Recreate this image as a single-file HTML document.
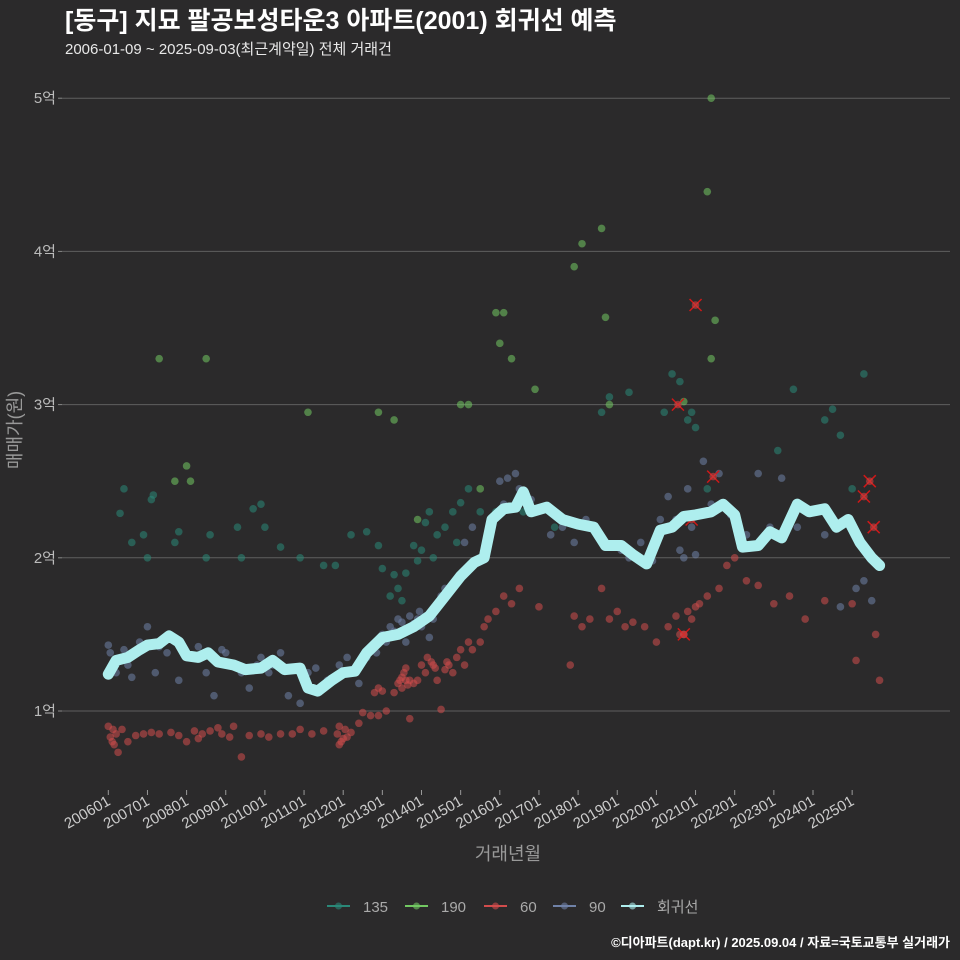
<!DOCTYPE html>
<html><head><meta charset="utf-8">
<style>
html,body{margin:0;padding:0;background:#2b2a2b;}
svg{display:block;font-family:"Liberation Sans","Noto Sans CJK KR",sans-serif;}
</style></head>
<body>
<svg id="chart" width="960" height="960" xmlns="http://www.w3.org/2000/svg">
<rect width="960" height="960" fill="#2b2a2b"/>
<text x="65" y="29" fill="#ffffff" font-size="25" font-weight="bold">[동구] 지묘 팔공보성타운3 아파트(2001) 회귀선 예측</text>
<text x="65" y="54" fill="#e8e8e8" font-size="15">2006-01-09 ~ 2025-09-03(최근계약일) 전체 거래건</text>
<g id="grid"></g>
<g id="points"></g>
<g id="reg"></g>
<g id="xaxis"></g>
<text x="508" y="860" fill="#999" font-size="18" text-anchor="middle">거래년월</text>
<text transform="translate(21,430) rotate(-90)" fill="#999" font-size="18" text-anchor="middle">매매가(원)</text>
<g id="legend"></g>
<text x="950" y="947" fill="#ffffff" font-size="13" font-weight="bold" text-anchor="end">©디아파트(dapt.kr) / 2025.09.04 / 자료=국토교통부 실거래가</text>
</svg>
<script>
const yTicks=[1,2,3,4,5];
const yTickLabels=["1억","2억","3억","4억","5억"];
const xTickYears=[2006,2007,2008,2009,2010,2011,2012,2013,2014,2015,2016,2017,2018,2019,2020,2021,2022,2023,2024,2025];
const xTickLabels=["200601","200701","200801","200901","201001","201101","201201","201301","201401","201501","201601","201701","201801","201901","202001","202101","202201","202301","202401","202501"];
const seriesNames=["135","190","60","90","회귀선"];
const seriesColors=["#2a8878","#72c862","#d24c4c","#7082a8","#aeeeee"];
// [year, 억]
const s135=[[2006.3,2.29],[2006.4,2.45],[2006.6,2.1],[2006.9,2.15],[2007.1,2.38],[2007.15,2.41],[2007.0,2.0],[2007.7,2.1],[2007.8,2.17],[2008.5,2.0],[2008.6,2.15],[2009.3,2.2],[2009.4,2.0],[2009.7,2.32],[2009.9,2.35],[2010.0,2.2],[2010.4,2.07],[2010.9,2.0],[2011.5,1.95],[2011.8,1.95],[2012.2,2.15],[2012.6,2.17],[2012.9,2.08],[2013.0,1.93],[2013.3,1.89],[2013.5,1.72],[2013.8,2.08],[2013.9,1.98],[2014.0,2.05],[2014.1,2.23],[2014.2,2.3],[2014.4,2.15],[2014.6,2.2],[2014.8,2.3],[2015.0,2.36],[2015.2,2.45],[2015.5,2.3],[2015.9,2.3],[2016.6,2.3],[2017.4,2.2],[2018.6,2.95],[2018.8,3.05],[2019.3,3.08],[2020.2,2.95],[2020.4,3.2],[2020.6,3.15],[2020.8,2.9],[2020.9,2.95],[2021.0,2.85],[2021.3,2.45],[2023.1,2.7],[2023.5,3.1],[2024.3,2.9],[2024.5,2.97],[2024.7,2.8],[2025.3,3.2],[2025.0,2.45],[2013.4,1.8],[2013.6,1.9],[2014.3,2.0],[2013.2,1.75],[2014.9,2.1]];
const s190=[[2007.3,3.3],[2007.7,2.5],[2008.0,2.6],[2008.1,2.5],[2008.5,3.3],[2011.1,2.95],[2012.9,2.95],[2013.3,2.9],[2013.9,2.25],[2015.0,3.0],[2015.2,3.0],[2015.5,2.45],[2015.9,3.6],[2016.1,3.6],[2016.0,3.4],[2016.3,3.3],[2016.9,3.1],[2017.9,3.9],[2018.1,4.05],[2018.6,4.15],[2018.7,3.57],[2018.8,3.0],[2021.3,4.39],[2021.4,5.0],[2021.5,3.55],[2021.4,3.3],[2020.7,3.02]];
const s60=[[2006.0,0.9],[2006.05,0.83],[2006.1,0.8],[2006.15,0.78],[2006.2,0.85],[2006.25,0.73],[2006.35,0.88],[2006.5,0.8],[2006.7,0.84],[2006.9,0.85],[2007.1,0.86],[2007.3,0.85],[2007.6,0.86],[2007.8,0.84],[2008.0,0.8],[2008.2,0.87],[2008.4,0.85],[2008.6,0.87],[2008.9,0.85],[2009.1,0.83],[2009.2,0.9],[2009.4,0.7],[2009.6,0.84],[2009.9,0.85],[2010.1,0.83],[2010.4,0.85],[2010.7,0.85],[2010.9,0.88],[2011.2,0.85],[2011.5,0.87],[2011.9,0.78],[2012.0,0.82],[2012.2,0.86],[2012.4,0.92],[2012.5,0.99],[2012.7,0.97],[2012.9,0.97],[2013.1,1.0],[2013.3,1.12],[2013.5,1.15],[2013.6,1.2],[2013.7,0.95],[2013.8,1.18],[2013.9,1.2],[2014.1,1.25],[2014.3,1.3],[2014.4,1.2],[2014.5,1.01],[2014.7,1.3],[2014.9,1.35],[2015.1,1.3],[2015.3,1.4],[2015.5,1.45],[2015.7,1.6],[2015.9,1.65],[2016.1,1.75],[2016.3,1.7],[2016.5,1.8],[2017.0,1.68],[2017.8,1.3],[2017.9,1.62],[2018.1,1.55],[2018.3,1.6],[2018.6,1.8],[2018.8,1.6],[2019.0,1.65],[2019.2,1.55],[2019.4,1.58],[2019.7,1.55],[2020.0,1.45],[2020.3,1.55],[2020.5,1.62],[2020.7,1.5],[2020.9,1.6],[2021.1,1.7],[2021.3,1.75],[2021.6,1.8],[2021.8,1.95],[2022.0,2.0],[2022.3,1.85],[2022.6,1.82],[2023.0,1.7],[2023.4,1.75],[2023.8,1.6],[2024.3,1.72],[2025.0,1.7],[2025.1,1.33],[2025.6,1.5],[2025.7,1.2],
[2011.85,0.85],[2011.95,0.8],[2012.05,0.88],[2011.9,0.9],[2012.1,0.83],[2006.12,0.88],[2008.3,0.82],[2008.8,0.89],[2013.4,1.18],[2013.5,1.22],[2013.55,1.25],[2013.65,1.17],[2013.7,1.2],[2013.6,1.28],[2013.45,1.2],[2014.0,1.3],[2014.15,1.35],[2014.25,1.32],[2014.35,1.28],[2014.6,1.27],[2014.65,1.32],[2014.8,1.25],[2012.8,1.12],[2012.9,1.15],[2013.0,1.13],[2015.2,1.45],[2015.6,1.55],[2015.0,1.4],[2020.6,1.5],[2020.8,1.65],[2021.0,1.68]];
const s90=[[2006.0,1.43],[2006.1,1.3],[2006.2,1.25],[2006.4,1.4],[2006.6,1.22],[2006.8,1.45],[2007.0,1.55],[2007.2,1.25],[2007.5,1.38],[2007.8,1.2],[2008.0,1.35],[2008.3,1.42],[2008.5,1.25],[2008.7,1.1],[2008.9,1.4],[2009.1,1.3],[2009.4,1.25],[2009.6,1.15],[2009.8,1.3],[2010.1,1.25],[2010.4,1.38],[2010.6,1.1],[2010.9,1.05],[2011.3,1.28],[2011.6,1.2],[2011.9,1.3],[2012.1,1.35],[2012.4,1.18],[2012.7,1.4],[2012.9,1.45],[2013.2,1.55],[2013.4,1.6],[2013.6,1.45],[2013.9,1.6],[2014.2,1.48],[2014.5,1.75],[2014.8,1.8],[2015.1,2.1],[2015.3,2.2],[2015.6,2.0],[2015.8,2.25],[2016.0,2.5],[2016.2,2.52],[2016.4,2.55],[2016.8,2.38],[2017.3,2.15],[2017.6,2.2],[2017.9,2.1],[2018.2,2.25],[2018.5,2.15],[2018.8,2.08],[2019.1,2.05],[2019.3,2.0],[2019.6,2.1],[2019.9,1.98],[2020.1,2.25],[2020.3,2.4],[2020.6,2.05],[2020.8,2.45],[2021.0,2.02],[2021.2,2.63],[2021.4,2.35],[2021.6,2.55],[2021.9,2.28],[2022.3,2.15],[2022.6,2.55],[2022.9,2.2],[2023.2,2.52],[2023.6,2.2],[2024.0,2.3],[2024.3,2.15],[2024.7,1.68],[2025.1,1.8],[2025.3,1.85],[2025.5,1.72],[2025.4,2.05],
[2006.05,1.38],[2006.5,1.3],[2007.3,1.42],[2009.0,1.38],[2009.9,1.35],[2010.2,1.3],[2011.1,1.25],[2012.6,1.35],[2012.75,1.42],[2012.85,1.38],[2013.0,1.5],[2013.1,1.45],[2013.3,1.52],[2013.5,1.58],[2013.7,1.62],[2013.8,1.57],[2013.95,1.65],[2014.0,1.55],[2014.1,1.62],[2014.3,1.6],[2014.4,1.7],[2014.6,1.8],[2016.1,2.35],[2016.5,2.45],[2020.5,2.25],[2020.7,2.0],[2020.9,2.2]];
const flagged=[[2020.55,3.0],[2020.9,2.25],[2021.0,3.65],[2021.45,2.53],[2025.3,2.4],[2025.45,2.5],[2025.55,2.2],[2020.7,1.5]];
const regYears=[2006.0,2006.2,2006.5,2006.8,2007.0,2007.3,2007.55,2007.8,2008.0,2008.3,2008.55,2008.8,2009.2,2009.5,2009.9,2010.2,2010.5,2010.9,2011.1,2011.35,2011.7,2012.0,2012.3,2012.6,2013.0,2013.4,2013.8,2014.2,2014.6,2015.0,2015.35,2015.6,2015.8,2016.1,2016.4,2016.6,2016.8,2017.2,2017.6,2018.0,2018.4,2018.7,2019.1,2019.4,2019.75,2020.1,2020.4,2020.7,2021.0,2021.4,2021.7,2022.0,2022.2,2022.6,2022.9,2023.2,2023.6,2023.9,2024.3,2024.6,2024.9,2025.2,2025.5,2025.7];
const regValues=[1.24,1.33,1.35,1.4,1.43,1.44,1.49,1.45,1.36,1.35,1.38,1.32,1.3,1.27,1.28,1.33,1.27,1.28,1.15,1.13,1.2,1.25,1.26,1.38,1.48,1.5,1.55,1.62,1.75,1.88,1.97,2.0,2.25,2.32,2.33,2.43,2.3,2.33,2.25,2.22,2.2,2.08,2.08,2.02,1.96,2.18,2.2,2.27,2.28,2.3,2.35,2.28,2.07,2.08,2.17,2.13,2.35,2.3,2.32,2.2,2.25,2.1,2.0,1.95];

const NS="http://www.w3.org/2000/svg";
const X=t=>108.3+(t-2006)*39.15;
const Y=v=>711-(v-1)*153.2;
function mk(tag,attrs,parent){const e=document.createElementNS(NS,tag);for(const k in attrs)e.setAttribute(k,attrs[k]);parent.appendChild(e);return e;}
const grid=document.getElementById('grid');
yTicks.forEach((v,i)=>{
  const l=mk('line',{x1:62,x2:950,y1:Y(v),y2:Y(v),stroke:'#5f5f5f','stroke-width':1},grid);
  
  
  const tk=mk('line',{x1:58,x2:62,y1:Y(v),y2:Y(v),stroke:'#888'},grid);
  
  
  const t=mk('text',{x:56,y:Y(v)+5,fill:'#bbb','font-size':15,'text-anchor':'end'},grid);
  t.textContent=yTickLabels[i];
  
  
});
const xa=document.getElementById('xaxis');
xTickYears.forEach((yr,i)=>{
  const x=X(yr);
  const tk=mk('line',{x1:x,x2:x,y1:790,y2:795,stroke:'#999'},xa);
  
  
  const t=mk('text',{transform:`translate(${x+3},${804}) rotate(-30)`,fill:'#ccc','font-size':15,'text-anchor':'end'},xa);
  t.textContent=xTickLabels[i];
  
  
});
const pg=document.getElementById('points');
[[s135,0],[s190,1],[s60,2],[s90,3]].forEach(([arr,ci])=>{
  arr.forEach(p=>{
    const c=mk('circle',{cx:X(p[0]),cy:Y(p[1]),r:3.8,fill:seriesColors[ci],'fill-opacity':0.55},pg);
    
    
  });
});
flagged.forEach(p=>{
  const x=X(p[0]),y=Y(p[1]);
  const g=mk('g',{stroke:'#d01818','stroke-width':1.5},pg);
  
  
  mk('line',{x1:x-6,y1:y-6,x2:x+6,y2:y+6},g);
  mk('line',{x1:x-6,y1:y+6,x2:x+6,y2:y-6},g);
  mk('circle',{cx:x,cy:y,r:3.8,fill:'#d04040','fill-opacity':0.6,stroke:'none'},g);
});
const rg=document.getElementById('reg');
const d=regYears.map((t,i)=>(i?'L':'M')+X(t).toFixed(1)+','+Y(regValues[i]).toFixed(1)).join(' ');
const path=mk('path',{d:d,fill:'none',stroke:'#aeeeee','stroke-width':11,'stroke-linejoin':'round','stroke-linecap':'round'},rg);


const lg=document.getElementById('legend');
const lx=[327,405,484,553,621];
seriesNames.forEach((n,i)=>{
  const g=mk('g',{},lg);
  
  
  mk('line',{x1:lx[i],x2:lx[i]+23,y1:906,y2:906,stroke:seriesColors[i],'stroke-width':2},g);
  mk('circle',{cx:lx[i]+11.5,cy:906,r:3.5,fill:seriesColors[i],'fill-opacity':0.6},g);
  const t=mk('text',{x:lx[i]+36,y:912,fill:'#aaa','font-size':15},g);
  t.textContent=n;
});
</script>
</body></html>
